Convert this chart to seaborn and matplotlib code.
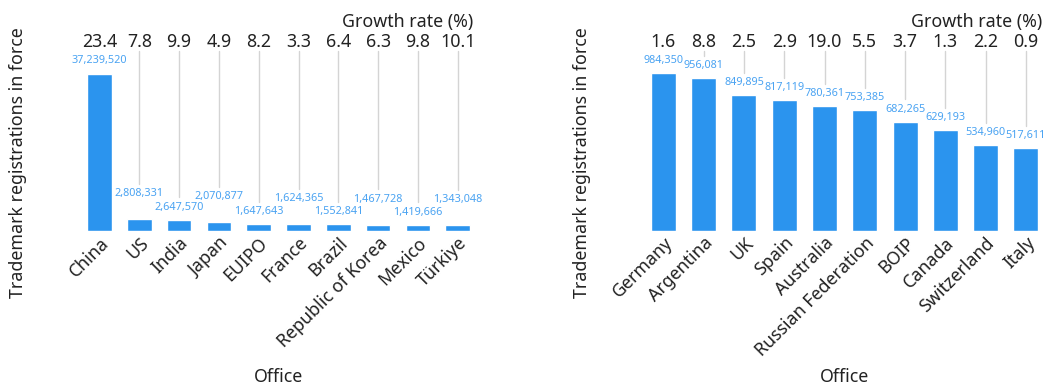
import matplotlib
matplotlib.use("Agg")
import matplotlib.pyplot as plt
import seaborn as sns
import pandas as pd

left_offices = ["China", "US", "India", "Japan", "EUIPO", "France", "Brazil",
                "Republic of Korea", "Mexico", "Türkiye"]
left_counts = [37239520, 2808331, 2647570, 2070877, 1647643, 1624365, 1552841,
               1467728, 1419666, 1343048]
left_growth = [23.4, 7.8, 9.9, 4.9, 8.2, 3.3, 6.4, 6.3, 9.8, 10.1]

right_offices = ["Germany", "Argentina", "UK", "Spain", "Australia",
                 "Russian Federation", "BOIP", "Canada", "Switzerland", "Italy"]
right_counts = [984350, 956081, 849895, 817119, 780361, 753385, 682265,
                629193, 534960, 517611]
right_growth = [1.6, 8.8, 2.5, 2.9, 19.0, 5.5, 3.7, 1.3, 2.2, 0.9]

BAR = "#2b94ee"
LABEL_BLUE = "#4aa3f2"
TEXT = "#222222"
GRID = "#d4d4d4"
FS = 12.8

sns.set_style("white")
plt.rcParams["font.family"] = ["Noto Sans", "DejaVu Sans"]

W, H, DPI = 1049, 387, 100
fig = plt.figure(figsize=(W / DPI, H / DPI), dpi=DPI)


def panel(box, ylab_x, offices, counts, growth):
    # box in pixels: left, bottom (from top), right, top (from top)
    x0, yb, x1, yt = box
    ax = fig.add_axes([x0 / W, 1 - yb / H, (x1 - x0) / W, (yb - yt) / H])
    h_px = yb - yt
    df = pd.DataFrame({"Office": offices, "Count": counts})
    sns.barplot(data=df, x="Office", y="Count", color=BAR, saturation=1,
                width=0.62, ax=ax)
    ymax = max(counts) * h_px / 157.5
    ax.set_ylim(0, ymax)
    ax.set_xlim(-0.5, len(offices) - 0.5)
    ax.set_yticks([])
    sns.despine(ax=ax, left=True, bottom=True)
    ax.tick_params(axis="x", length=0, pad=2, labelsize=FS, colors=TEXT)
    for lab in ax.get_xticklabels():
        lab.set_rotation(45)
        lab.set_ha("right")
        lab.set_va("top")
        lab.set_rotation_mode("anchor")

    px = ymax / h_px
    renderer = fig.canvas.get_renderer()
    prev_ext, prev_raised = None, True
    for i, (v, g) in enumerate(zip(counts, growth)):
        t = ax.annotate(f"{v:,}", (i, v), xytext=(0, 9), textcoords="offset points",
                        ha="center", va="center", fontsize=7.8, color=LABEL_BLUE)
        ext = t.get_window_extent(renderer)
        # lift a label that clearly collides with its (unlifted) left neighbour
        raised = False
        if prev_ext is not None and ext.x0 < prev_ext.x1 - 5 and not prev_raised:
            raised = True
            t.set_position((0, 18.4))
        off_px = 25.5 if raised else 12.5
        prev_ext, prev_raised = ext, raised
        ax.plot([i, i], [v + (off_px + 10) * px, (h_px - 39) * px],
                color=GRID, lw=1, zorder=0)
        ax.text(i, (h_px - 30) * px, f"{g:.1f}", ha="center", va="center",
                fontsize=FS, color=TEXT)
    ax.text(0.99, (h_px - 10) / h_px, "Growth rate (%)", transform=ax.transAxes,
            ha="right", va="center", fontsize=FS, color=TEXT)

    ax.set_xlabel("Office", fontsize=FS, color=TEXT)
    ax.xaxis.set_label_coords(0.5, (yb - 377) / h_px)
    ax.xaxis.label.set_va("center")
    ax.set_ylabel("Trademark registrations in force", fontsize=FS, color=TEXT)
    ax.yaxis.set_label_coords((ylab_x - x0) / (x1 - x0), (yb - 163) / h_px)
    ax.yaxis.label.set_va("center")
    return ax


panel((79.6, 231, 477.6, 12), 18, left_offices, left_counts, left_growth)
panel((643.3, 231, 1046, 12), 582, right_offices, right_counts, right_growth)

fig.savefig("out.png", dpi=DPI)
